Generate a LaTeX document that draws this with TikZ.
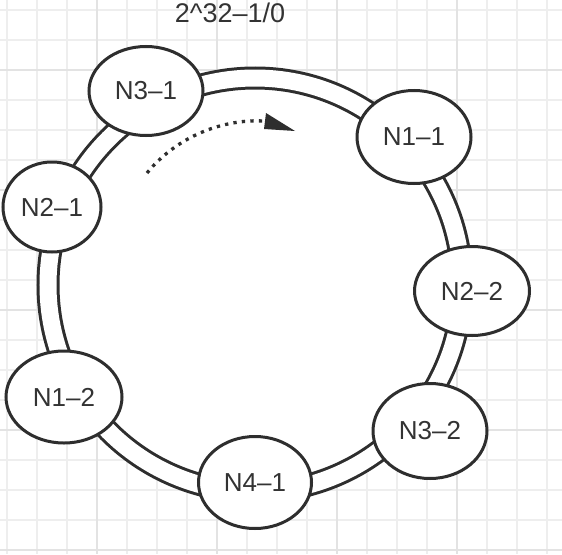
\documentclass[tikz,border=0pt]{standalone}
\usepackage{fontspec}
\setmainfont{Liberation Sans}
\usetikzlibrary{shapes.geometric}
\definecolor{ink}{HTML}{2E2E2E}
\definecolor{txt}{HTML}{333333}
\definecolor{gridlight}{HTML}{EEEEEE}
\definecolor{griddark}{HTML}{E3E3E3}
\begin{document}
\begin{tikzpicture}[x=1pt,y=-1pt,
  hashnode/.style={ellipse, draw=ink, line width=3pt, fill=white, inner sep=0pt,
    text=txt, font=\fontsize{26}{30}\selectfont},
  ringstyle/.style={circle, minimum size=414pt, inner sep=0pt, draw=ink, line width=3pt,
    double=white, double distance=17pt, fill=white},
  gridthin/.style={draw=gridlight, line width=1.2pt},
  gridthick/.style={draw=griddark, line width=1.2pt},
  dotline/.style={draw=ink, line width=3.3pt, dash pattern=on 3.3pt off 5.2pt}
]
\useasboundingbox (0,0) rectangle (562,554);
\fill[white] (0,0) rectangle (562,554);
% grid
\foreach \i in {0,...,18} {
  \draw[gridthin] (7+30*\i,0) -- (7+30*\i,554);
  \draw[gridthin] (0,10+30*\i) -- (562,10+30*\i);
}
\foreach \x in {97,217,337,457} \draw[gridthick] (\x,0) -- (\x,554);
\foreach \y in {70,190,310,430,550} \draw[gridthick] (0,\y) -- (562,\y);
% ring
\node[ringstyle] (ring) at (255,285) {};
% label
\node[anchor=base, inner sep=0pt, text=txt, font=\fontsize{27}{30}\selectfont] (top) at (230,23) {2\textasciicircum 32–1/0};
% hash nodes
\node[hashnode, minimum width=114pt, minimum height=89pt] (n31) at (146,91) {N3–1};
\node[hashnode, minimum width=114pt, minimum height=93pt] (n11) at (414,137) {N1–1};
\node[hashnode, minimum width=98pt, minimum height=90pt] (n21) at (52,207) {N2–1};
\node[hashnode, minimum width=115pt, minimum height=89pt] (n22) at (472,291) {N2–2};
\node[hashnode, minimum width=116pt, minimum height=92pt] (n12) at (64,397) {N1–2};
\node[hashnode, minimum width=114pt, minimum height=95pt] (n32) at (430,431) {N3–2};
\node[hashnode, minimum width=113pt, minimum height=92pt] (n41) at (255,482.5) {N4–1};
% direction arrow
\coordinate (arrS) at (147,173);
\coordinate (arrE) at (263,121);
\draw[dotline] (arrS) .. controls (178,135) and (225,119) .. (arrE);
\coordinate (tipA) at (266,113);
\coordinate (tipB) at (295,131);
\coordinate (tipC) at (264,129);
\fill[ink] (tipA) -- (tipB) -- (tipC) -- cycle;
\end{tikzpicture}
\end{document}
